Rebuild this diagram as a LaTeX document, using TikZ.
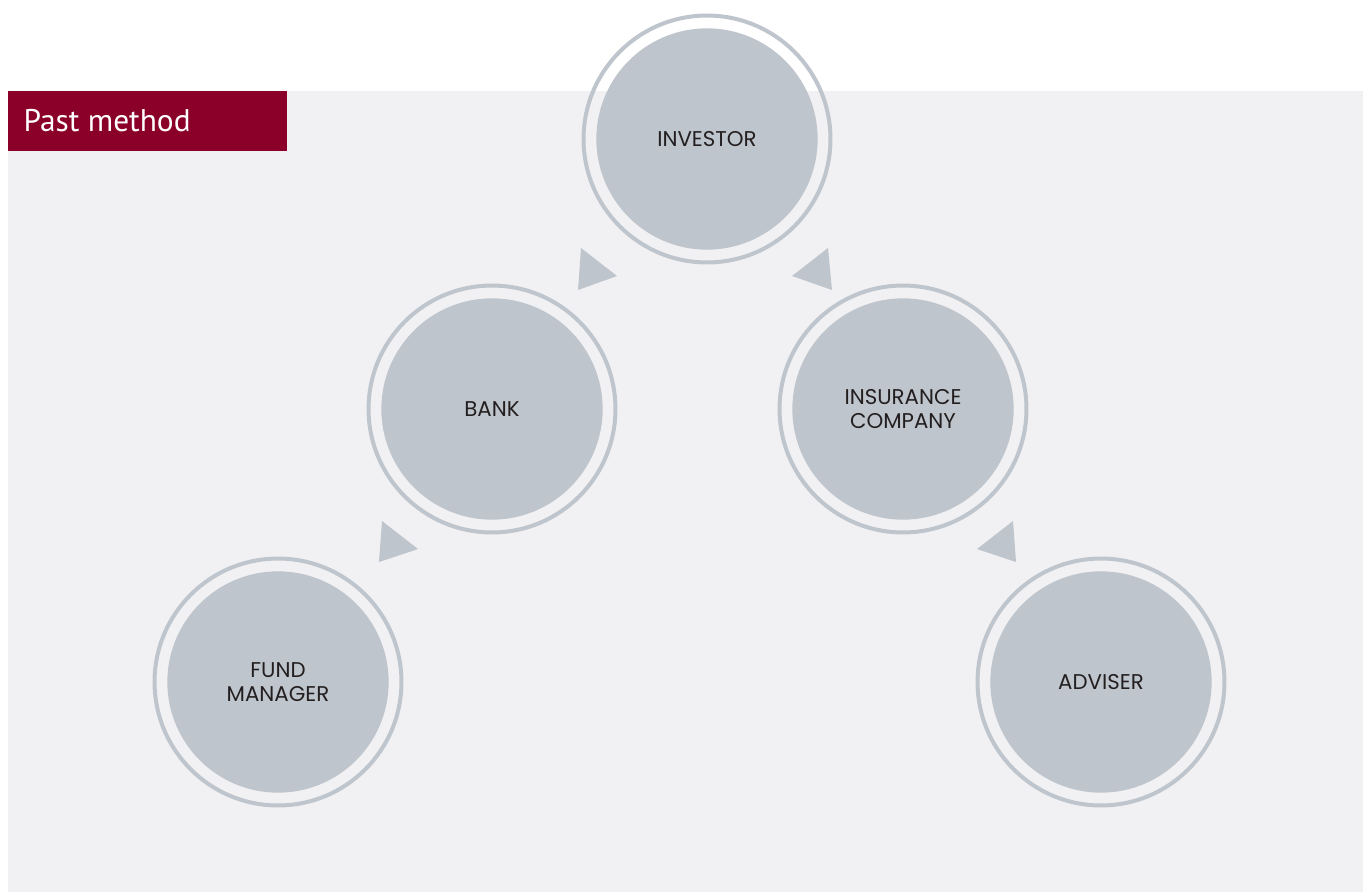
\documentclass[tikz,border=0pt]{standalone}
\usepackage{fontspec}
\setmainfont{Poppins}
\newfontfamily\titlefont{PT Sans}
\definecolor{panelgrey}{HTML}{F1F1F3}
\definecolor{circgrey}{HTML}{BFC5CC}
\definecolor{titlered}{HTML}{8A0029}
\definecolor{labelblack}{HTML}{231F20}
\begin{document}
\begin{tikzpicture}[x=0.75pt,y=-0.75pt,
    party/.style={circle,fill=circgrey,minimum size=166pt,inner sep=0pt,
      text=labelblack,align=center,font=\fontsize{16}{18}\selectfont},
    ring/.style={draw=circgrey,line width=3pt},
    pointer/.style={fill=circgrey}]
  \useasboundingbox (0,0) rectangle (1363,892);
  \fill[panelgrey] (8,91) rectangle (1363,892);
  \fill[titlered] (8,91) rectangle (287,151);
  \node[anchor=west,text=white,font=\titlefont\fontsize{23.5}{25}\selectfont] (title) at (19,121) {Past method};
  % the five parties
  \node[party] (inv) at (707,139) {INVESTOR};
  \node[party] (bank) at (492,409) {BANK};
  \node[party] (ins) at (903,409) {INSURANCE\\COMPANY};
  \node[party] (fund) at (278,682) {FUND\\MANAGER};
  \node[party] (adv) at (1101,682) {ADVISER};
  \draw[ring] (inv.center) circle[radius=92.6pt];
  \draw[ring] (bank.center) circle[radius=92.6pt];
  \draw[ring] (ins.center) circle[radius=92.6pt];
  \draw[ring] (fund.center) circle[radius=92.6pt];
  \draw[ring] (adv.center) circle[radius=92.6pt];
  % arrow heads
  \fill[pointer] (581,248) -- (617,276) -- (578,290) -- cycle;
  \fill[pointer] (828,248) -- (792,276) -- (832,290) -- cycle;
  \fill[pointer] (382,521) -- (418,549) -- (379,562) -- cycle;
  \fill[pointer] (1013,521) -- (977,549) -- (1016,562) -- cycle;
\end{tikzpicture}
\end{document}
